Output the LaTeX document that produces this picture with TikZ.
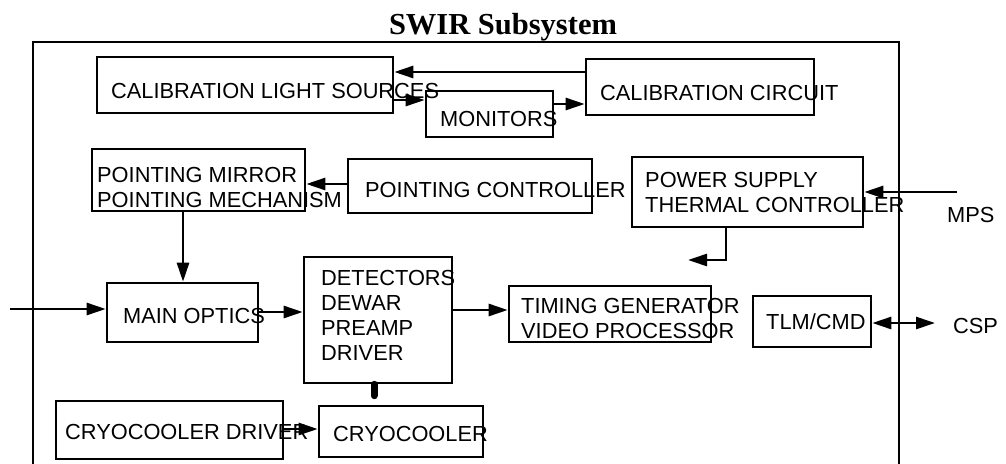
\documentclass[tikz,border=0pt]{standalone}
\usepackage{fontspec}
\setmainfont{Liberation Sans}
\newfontfamily\titlefont{Liberation Serif}
\usetikzlibrary{arrows.meta}
\begin{document}
\begin{tikzpicture}[x=1pt,y=-1pt,
  box/.style={draw,line width=2.6pt,minimum width=#1,inner sep=0pt},
  lbl/.style={anchor=base west,inner sep=0pt,align=left,font=\fontsize{21.8}{24.7}\selectfont},
  arr/.style={line width=2.6pt,-{Triangle[length=19pt,width=12pt]}},
  arrb/.style={line width=2.6pt,{Triangle[length=19pt,width=12pt]}-{Triangle[length=19pt,width=12pt]}},
  frame/.style={line width=2.6pt}]
\useasboundingbox (0,0) rectangle (1006,463);
% outer frame
\draw[frame] (33,470) -- (33,42) -- (899,42) -- (899,470);
\node[anchor=base,inner sep=0pt,font=\titlefont\bfseries\fontsize{30.5}{32}\selectfont] (title) at (503,34) {SWIR Subsystem};
% boxes
\node[box=296pt,minimum height=56pt] (cls) at (245,85) {};
\node[box=127pt,minimum height=46pt] (mon) at (489.5,114) {};
\node[box=228pt,minimum height=56pt] (calc) at (700,87) {};
\node[box=213pt,minimum height=62pt] (pm) at (198.5,180) {};
\node[box=244pt,minimum height=54pt] (pc) at (470,186) {};
\node[box=231pt,minimum height=70pt] (ps) at (747.5,192) {};
\node[box=151pt,minimum height=59pt] (mo) at (182.5,312.5) {};
\node[box=148pt,minimum height=126pt] (det) at (378,320) {};
\node[box=202pt,minimum height=56pt] (tg) at (610,314) {};
\node[box=118pt,minimum height=51pt] (tlm) at (812,321.5) {};
\node[box=227pt,minimum height=58pt] (cd) at (169.5,430) {};
\node[box=164pt,minimum height=51pt] (cc) at (401,431.5) {};
% texts (multi-line nodes: base = last line)
\node[lbl] (clsT) at (111,98) {CALIBRATION LIGHT SOURCES};
\node[lbl] (monT) at (440,126) {MONITORS};
\node[lbl] (calcT) at (600,100) {CALIBRATION CIRCUIT};
\node[lbl] (pmT) at (97,207) {POINTING MIRROR\\POINTING MECHANISM};
\node[lbl] (pcT) at (365,197) {POINTING CONTROLLER};
\node[lbl] (psT) at (645,212) {POWER SUPPLY\\THERMAL CONTROLLER};
\node[lbl] (mps) at (947,222) {MPS};
\node[lbl] (moT) at (123,323) {MAIN OPTICS};
\node[lbl] (detT) at (321,360) {DETECTORS\\DEWAR\\PREAMP\\DRIVER};
\node[lbl] (tgT) at (521,338) {TIMING GENERATOR\\VIDEO PROCESSOR};
\node[lbl] (tlmT) at (766,329) {TLM/CMD};
\node[lbl] (csp) at (953,333) {CSP};
\node[lbl] (cdT) at (65,439) {CRYOCOOLER DRIVER};
\node[lbl] (ccT) at (333,441) {CRYOCOOLER};
% free ends
\coordinate (mpsin) at (957,192);
\coordinate (psout) at (688,260);
\coordinate (inp) at (10,309);
\coordinate (cspend) at (935,323);
% connectors
\draw[arr] (calc.west |- 0,72) -- (cls.east |- 0,72);
\draw[arr] (cls.east |- 0,100) -- (mon.west |- 0,100);
\draw[arr] (mon.east |- 0,104) -- (calc.west |- 0,104);
\draw[arr] (pc.west |- 0,184) -- (pm.east |- 0,184);
\draw[arr] (mpsin) -- (ps.east |- mpsin);
\draw[arr] (ps.south -| 726,0) |- (psout);
\draw[arr] (pm.south -| 183,0) -- (mo.north -| 183,0);
\draw[arr] (inp) -- (mo.west |- inp);
\draw[arr] (mo.east |- 0,312) -- (det.west |- 0,312);
\draw[arr] (det.east |- 0,310) -- (tg.west |- 0,310);
\draw[arrb] (tlm.east |- cspend) -- (cspend);
\draw[arr] (cd.east |- 0,429) -- (cc.west |- 0,429);
\draw[line width=7pt,line cap=round,shorten >=9pt] (det.south -| 374,0) -- (cc.north -| 374,0);
\end{tikzpicture}
\end{document}
